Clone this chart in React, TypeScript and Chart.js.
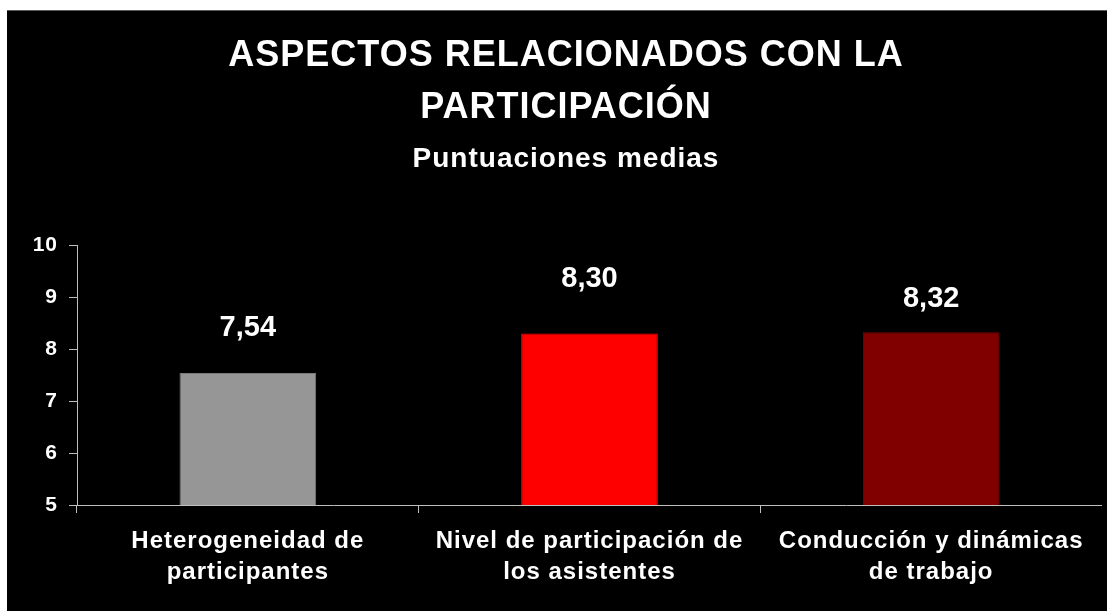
import React, { useEffect, useRef } from 'react';
import { Chart, registerables } from 'chart.js';

Chart.register(...registerables);

const categories: string[][] = [
  ['Heterogeneidad de', 'participantes'],
  ['Nivel de participación de', 'los asistentes'],
  ['Conducción y dinámicas', 'de trabajo'],
];
const values: number[] = [7.54, 8.3, 8.32];
const barColors: string[] = ['#969696', '#FF0000', '#800000'];
const barBorders: string[] = ['#7a7a7a', '#FF0000', '#800000'];
const yTicks: number[] = [5, 6, 7, 8, 9, 10];
const titleLines: string[] = ['ASPECTOS RELACIONADOS CON LA', 'PARTICIPACIÓN'];
const subtitleText = 'Puntuaciones medias';
const labelOffsets: number[] = [37, 46, 25];

const FONT = "'Liberation Sans', Arial, sans-serif";

const spacingPlugin = {
  id: 'spacing',
  beforeUpdate(chart: any) {
    chart.ctx.letterSpacing = '1px';
  },
  beforeDraw(chart: any) {
    chart.ctx.letterSpacing = '1px';
  },
};

const valueLabelPlugin = {
  id: 'valueLabels',
  afterDatasetsDraw(chart: any) {
    const ctx = chart.ctx;
    const meta = chart.getDatasetMeta(0);
    ctx.save();
    ctx.letterSpacing = '0px';
    ctx.font = `bold 29px ${FONT}`;
    ctx.fillStyle = '#ffffff';
    ctx.textAlign = 'center';
    ctx.textBaseline = 'alphabetic';
    meta.data.forEach((bar: any, i: number) => {
      const txt = values[i].toFixed(2).replace('.', ',');
      ctx.fillText(txt, bar.x, bar.y - labelOffsets[i]);
    });
    ctx.restore();
  },
};

export default function App() {
  const ref = useRef<HTMLCanvasElement>(null);

  useEffect(() => {
    if (!ref.current) return;
    const chart = new Chart(ref.current, {
      type: 'bar',
      data: {
        labels: categories,
        datasets: [
          {
            data: values,
            backgroundColor: barColors,
            borderColor: barBorders,
            borderWidth: 1,
            barPercentage: 0.4,
            categoryPercentage: 1,
          },
        ],
      },
      options: {
        animation: false,
        responsive: false,
        maintainAspectRatio: false,
        layout: { padding: { left: 23, right: 0, top: 0, bottom: 0 } },
        plugins: {
          legend: { display: false },
          tooltip: { enabled: false },
          title: {
            display: true,
            text: titleLines,
            color: '#ffffff',
            font: { family: FONT, size: 36, weight: 'bold', lineHeight: 52 / 36 },
            padding: { top: 19.5, bottom: 0 },
          },
          subtitle: {
            display: true,
            text: subtitleText,
            color: '#ffffff',
            font: { family: FONT, size: 28, weight: 'bold', lineHeight: 34 / 28 },
            padding: { top: 7.8, bottom: 68.7 },
          },
        },
        scales: {
          x: {
            grid: {
              display: true,
              drawOnChartArea: false,
              drawTicks: true,
              tickLength: 8,
              color: '#bfbfbf',
              offset: true,
            },
            border: { display: true, color: '#bfbfbf', width: 1 },
            ticks: {
              color: '#ffffff',
              font: { family: FONT, size: 24, weight: 'bold', lineHeight: 31 / 24 },
              padding: 13,
              maxRotation: 0,
              autoSkip: false,
            },
            afterFit(scale: any) {
              scale.height = 106;
            },
          },
          y: {
            min: yTicks[0],
            max: yTicks[yTicks.length - 1],
            grid: {
              display: true,
              drawOnChartArea: false,
              drawTicks: true,
              tickLength: 8,
              color: '#bfbfbf',
            },
            border: { display: true, color: '#bfbfbf', width: 1 },
            ticks: {
              stepSize: 1,
              color: '#ffffff',
              font: { family: FONT, size: 21, weight: 'bold' },
              padding: 11,
            },
            afterFit(scale: any) {
              scale.width = 47;
            },
          },
        },
      },
      plugins: [spacingPlugin, valueLabelPlugin],
    });
    return () => chart.destroy();
  }, []);

  return (
    <div
      style={{
        position: 'fixed',
        left: 0,
        top: 0,
        width: 1107,
        height: 611,
        overflow: 'hidden',
        background: '#ffffff',
      }}
    >
      <div
        style={{
          position: 'absolute',
          left: 7,
          top: 10,
          width: 1100,
          height: 601,
          background: '#000000',
          borderTop: '1px solid #5a5a5a',
          boxSizing: 'border-box',
        }}
      >
        <canvas ref={ref} width={1095} height={600} style={{ display: 'block', width: 1095, height: 600 }} />
      </div>
    </div>
  );
}
